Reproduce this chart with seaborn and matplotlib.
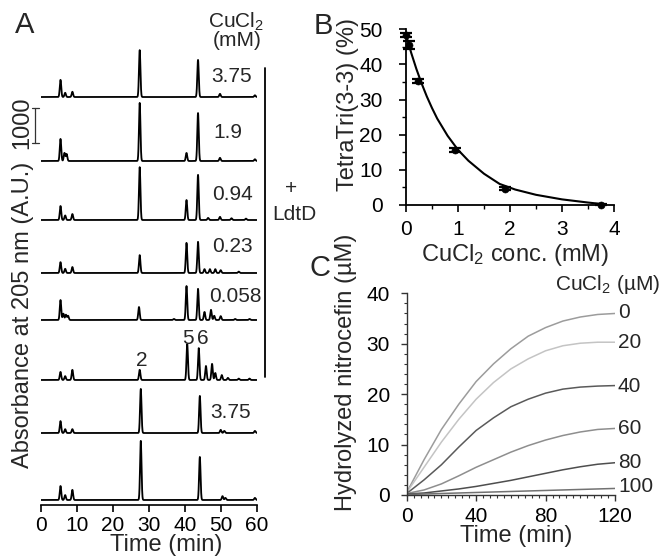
import numpy as np
import pandas as pd
import matplotlib
matplotlib.use("Agg")
import matplotlib.pyplot as plt
from matplotlib.lines import Line2D
from matplotlib.ticker import MultipleLocator
import seaborn as sns

sns.set_style("white")
plt.rcParams['font.family'] = ['Liberation Sans', 'DejaVu Sans']
plt.rcParams['mathtext.fontset'] = 'custom'
plt.rcParams['mathtext.rm'] = 'Liberation Sans'
plt.rcParams['mathtext.it'] = 'Liberation Sans:italic'

# ---------------- Panel A data: chromatogram peaks (retention min, height AU) ----
trace_names = ["3.75 +LdtD", "1.9 +LdtD", "0.94 +LdtD", "0.23 +LdtD",
               "0.058 +LdtD", "0 +LdtD", "3.75", "none"]
trace_offsets = [11514, 9686, 8000, 6486, 5143, 3429, 1914, 0]
peak_times = [
    [5.5, 6.8, 8.8, 27.5, 43.7, 49.8, 59.5],
    [5.5, 6.6, 7.2, 27.5, 40.5, 43.7, 49.8, 59.5],
    [5.5, 6.8, 8.8, 27.5, 40.5, 43.7, 46.5, 49.8, 53.0, 57.0],
    [5.5, 6.8, 8.8, 27.5, 40.5, 43.7, 45.5, 47.0, 48.5, 50.0, 55.0],
    [5.5, 6.3, 7.0, 7.6, 27.3, 37.0, 40.5, 43.7, 45.5, 47.3, 48.2, 50.0, 54.0, 58.0],
    [5.5, 6.8, 8.8, 27.5, 40.7, 43.9, 45.9, 47.6, 48.5, 50.3, 52.0, 55.0, 58.0],
    [5.5, 6.8, 8.8, 27.8, 44.2, 50.0, 51.0, 59.5],
    [5.5, 6.8, 8.8, 27.8, 44.2, 50.5, 51.3, 59.5],
]
peak_heights = [
    [490, 120, 150, 1340, 1060, 90, 50],
    [630, 230, 200, 1660, 230, 1370, 90, 50],
    [400, 130, 170, 1510, 570, 1290, 60, 90, 50, 40],
    [310, 120, 170, 510, 860, 890, 110, 110, 110, 80, 40],
    [570, 180, 150, 120, 370, 30, 970, 890, 230, 290, 120, 110, 30, 30],
    [230, 110, 290, 290, 1030, 910, 400, 460, 200, 140, 60, 40, 40],
    [340, 110, 110, 1260, 1060, 90, 60, 60],
    [400, 140, 290, 1690, 1230, 110, 60, 60],
]
time_ticks_A = [0, 10, 20, 30, 40, 50, 60]

# ---------------- Panel B data ----------------
b_conc = [0, 0.058, 0.23, 0.94, 1.9, 3.75]
b_val = [48.4, 45.6, 35.3, 15.7, 4.6, 0.1]
b_err = [0.6, 1.2, 0.6, 0.5, 0.4, 0.1]
fit_x = [0, 0.1, 0.2, 0.3, 0.4, 0.5, 0.6, 0.8, 1.0, 1.2, 1.5, 1.8, 2.1, 2.5, 3.0, 3.5, 3.75]
fit_y = [48.5, 43.3, 38.7, 34.6, 30.9, 27.6, 24.6, 19.7, 15.7, 12.6, 8.9, 6.0, 4.4, 2.9, 1.6, 0.7, 0.3]

# ---------------- Panel C data ----------------
c_time = [0, 10, 20, 30, 40, 50, 60, 70, 80, 90, 100, 110, 120]
c_conc = ["0", "20", "40", "60", "80", "100"]
c_vals = {
    "0":   [0.5, 7.0, 13.0, 18.0, 22.5, 26.0, 29.0, 31.5, 33.2, 34.5, 35.3, 35.8, 36.0],
    "20":  [0.5, 5.5, 10.5, 15.0, 19.0, 22.3, 25.0, 27.0, 28.6, 29.6, 30.1, 30.3, 30.3],
    "40":  [0.3, 3.0, 6.0, 9.5, 12.8, 15.3, 17.5, 19.0, 20.2, 21.0, 21.4, 21.6, 21.7],
    "60":  [0.3, 1.0, 2.2, 3.8, 5.5, 7.0, 8.5, 9.8, 10.9, 11.8, 12.5, 13.0, 13.2],
    "80":  [0.2, 0.4, 0.8, 1.2, 1.7, 2.3, 2.9, 3.6, 4.3, 5.0, 5.6, 6.1, 6.4],
    "100": [0.1, 0.2, 0.3, 0.4, 0.5, 0.6, 0.7, 0.8, 0.9, 1.0, 1.1, 1.2, 1.3],
}
c_colors = {"0": "#9c9c9c", "20": "#c4c4c4", "40": "#5a5a5a",
            "60": "#8e8e8e", "80": "#4e4e4e", "100": "#727272"}

W, H = 662, 556
fig = plt.figure(figsize=(W / 100, H / 100), dpi=100)
fig.patch.set_facecolor("white")


def fx(x):
    return x / W


def fy(y):
    return 1 - y / H


def ftext(x, y, s, size=15, ha="center", va="center", **kw):
    fig.text(fx(x), fy(y), s, fontsize=size, ha=ha, va=va, **kw)


TICK = 15
LAB = 17

# ================= Panel A =================
axA = fig.add_axes([fx(40.7), fy(505), fx(216), (505 - 40) / H])
t = np.linspace(0, 60, 3001)
rows = []
for name, off, pts, hts in zip(trace_names, trace_offsets, peak_times, peak_heights):
    y = np.full_like(t, float(off))
    for rt, h in zip(pts, hts):
        y = y + h * np.exp(-0.5 * ((t - rt) / 0.2) ** 2)
    rows.append(pd.DataFrame({"t": t, "y": y, "trace": name}))
dfA = pd.concat(rows, ignore_index=True)
sns.lineplot(data=dfA, x="t", y="y", units="trace", estimator=None, sort=False,
             color="black", lw=1.3, ax=axA, legend=False)
axA.set_xlim(0, 60)
axA.set_ylim(-143, 13143)
for s in ["left", "top", "right"]:
    axA.spines[s].set_visible(False)
axA.spines["bottom"].set_linewidth(1.2)
axA.spines["bottom"].set_color("black")
axA.set_xticks(time_ticks_A)
axA.set_yticks([])
axA.tick_params(axis="x", direction="out", length=5, width=1.2, pad=3,
                labelsize=TICK, colors="black", bottom=True)
axA.set_xlabel("")
axA.set_ylabel("")
# scale bar (1000 AU)
axA.plot([-1.6, -1.6], [10200, 11200], color="#333333", lw=0.9, clip_on=False)
axA.plot([-2.4, -0.6], [10200, 10200], color="#333333", lw=0.9, clip_on=False)
axA.plot([-2.4, -0.6], [11200, 11200], color="#333333", lw=0.9, clip_on=False)

ftext(25, 25, "A", size=21)
ftext(236, 22, "CuCl$_2$", size=TICK)
ftext(237, 41, "(mM)", size=TICK)
ftext(232, 76, "3.75", size=TICK)
ftext(228, 132, "1.9", size=TICK)
ftext(232, 194, "0.94", size=TICK)
ftext(232, 247, "0.23", size=TICK)
ftext(235, 297, "0.058", size=TICK)
ftext(231, 412, "3.75", size=TICK)
ftext(142, 360, "2", size=TICK)
ftext(188, 338, "5", size=TICK)
ftext(203, 338, "6", size=TICK)
ftext(291, 189, "+", size=TICK)
ftext(294, 215, "LdtD", size=TICK)
fig.add_artist(Line2D([fx(265), fx(265)], [fy(68), fy(377)], color="black", lw=1.3))
ftext(166, 545, "Time (min)", size=LAB)
ftext(23, 315, "Absorbance at 205 nm (A.U.)", size=LAB, rotation=90)
ftext(22, 123, "1000", size=LAB, rotation=90)

# ================= Panel B =================
axB = fig.add_axes([fx(406), fy(205), fx(208), 175.7 / H])
sns.lineplot(x=fit_x, y=fit_y, color="black", lw=1.5, ax=axB)
axB.errorbar(b_conc, b_val, yerr=b_err, fmt="none", ecolor="black",
             elinewidth=1.6, capsize=4, capthick=1.6, clip_on=False, zorder=4)
sns.scatterplot(x=b_conc, y=b_val, color="black", s=26, edgecolor="black",
                ax=axB, zorder=5, clip_on=False)
axB.set_xlim(0, 4)
axB.set_ylim(0, 50)
for s in ["top", "right"]:
    axB.spines[s].set_visible(False)
for s in ["left", "bottom"]:
    axB.spines[s].set_linewidth(1.3)
    axB.spines[s].set_color("black")
axB.set_xticks([0, 1, 2, 3, 4])
axB.set_yticks([0, 10, 20, 30, 40, 50])
axB.xaxis.set_minor_locator(MultipleLocator(0.5))
axB.yaxis.set_minor_locator(MultipleLocator(5))
axB.tick_params(which="major", direction="out", length=5, width=1.2,
                labelsize=TICK, colors="black", bottom=True, left=True)
axB.tick_params(which="minor", direction="out", length=3, width=1.0,
                colors="black", bottom=True, left=True)
axB.tick_params(axis="x", pad=6)
axB.tick_params(axis="y", pad=12)
ftext(323, 26, "B", size=21)
ftext(515, 255, "CuCl$_2$ conc. (mM)", size=LAB)
ftext(348, 105, "TetraTri(3-3) (%)", size=LAB, rotation=90)

# ================= Panel C =================
axC = fig.add_axes([fx(406.7), fy(495), fx(208.3), 201.7 / H])
dfC = pd.DataFrame({
    "time": c_time * len(c_conc),
    "hydro": sum([c_vals[c] for c in c_conc], []),
    "conc": sum([[c] * len(c_time) for c in c_conc], []),
})
sns.lineplot(data=dfC, x="time", y="hydro", hue="conc", hue_order=c_conc,
             palette=c_colors, lw=1.1, ax=axC, legend=False)
axC.set_xlim(0, 120)
axC.set_ylim(0, 40)
for s in ["top", "right"]:
    axC.spines[s].set_visible(False)
for s in ["left", "bottom"]:
    axC.spines[s].set_linewidth(1.0)
    axC.spines[s].set_color("#333333")
axC.set_xticks([0, 40, 80, 120])
axC.set_yticks([0, 10, 20, 30, 40])
axC.xaxis.set_minor_locator(MultipleLocator(4))
axC.yaxis.set_minor_locator(MultipleLocator(2))
axC.tick_params(which="major", direction="out", length=4, width=1.0,
                labelsize=TICK, colors="#333333", labelcolor="black",
                bottom=True, left=True)
axC.tick_params(which="minor", direction="out", length=2.5, width=0.8,
                colors="#333333", bottom=True, left=True)
axC.tick_params(axis="x", pad=5)
axC.tick_params(axis="y", pad=8)
axC.set_xlabel("")
axC.set_ylabel("")
ftext(320, 268, "C", size=21)
ftext(608, 284, "CuCl$_2$ (µM)", size=TICK)
for lab, yy in zip(c_conc, [313, 343, 386, 428, 462, 487]):
    ftext(618, yy, lab, size=TICK, ha="left")
ftext(516, 536, "Time (min)", size=LAB)
ftext(346, 372, "Hydrolyzed nitrocefin (µM)", size=LAB, rotation=90)

fig.savefig("out.png", dpi=100, facecolor="white")
